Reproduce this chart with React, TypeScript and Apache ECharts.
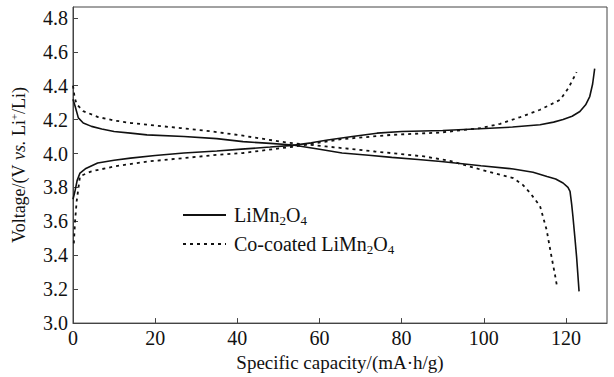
import React, { useEffect, useRef } from "react";
import * as echarts from "echarts";

// LiMn2O4 charge curve
const solidChargeX = [0, 0.5, 1.0, 1.7, 3, 6, 10, 14, 20, 27, 35, 41, 48, 53.5, 58, 62, 68, 74, 80, 90, 99, 107, 113.7, 117, 119.3, 121.5, 123.4, 124.8, 125.8, 126.5, 127];
const solidChargeY = [3.73, 3.78, 3.84, 3.885, 3.91, 3.944, 3.96, 3.973, 3.988, 4.003, 4.015, 4.026, 4.038, 4.048, 4.063, 4.08, 4.1, 4.12, 4.13, 4.136, 4.146, 4.156, 4.17, 4.185, 4.2, 4.22, 4.248, 4.287, 4.336, 4.41, 4.5];
// LiMn2O4 discharge curve
const solidDischargeX = [0, 0.5, 1.3, 2.5, 4.5, 7, 10, 14, 18, 27, 35, 41.4, 48, 53.5, 60, 65.5, 72, 77.6, 84, 89.6, 99.3, 107.2, 112, 115.4, 117.5, 119.3, 120.5, 121, 121.4, 121.7, 122.2, 122.6, 123.2];
const solidDischargeY = [4.32, 4.28, 4.21, 4.18, 4.16, 4.145, 4.13, 4.12, 4.11, 4.1, 4.088, 4.07, 4.06, 4.05, 4.025, 4.003, 3.99, 3.977, 3.965, 3.953, 3.928, 3.909, 3.89, 3.865, 3.85, 3.826, 3.8, 3.777, 3.7, 3.63, 3.5, 3.39, 3.187];
// Co-coated charge curve
const dashChargeX = [0.2, 0.5, 0.9, 1.7, 3, 4.5, 10.1, 18.1, 27, 34, 41.4, 53.5, 65.5, 77.6, 89.6, 99.3, 104, 108.9, 113.7, 118.6, 120.6, 122.6];
const dashChargeY = [3.47, 3.6, 3.72, 3.865, 3.88, 3.895, 3.924, 3.953, 3.973, 3.99, 4.003, 4.04, 4.085, 4.11, 4.124, 4.15, 4.175, 4.215, 4.258, 4.317, 4.386, 4.48];
// Co-coated discharge curve
const dashDischargeX = [0, 0.4, 0.9, 2.5, 6.1, 10, 14.1, 20, 26.2, 34, 41.4, 51.9, 61.5, 73.5, 85.5, 92, 99.3, 104, 107.2, 109.5, 111.3, 113.7, 115.3, 116.5, 117.3, 117.9];
const dashDischargeY = [4.4, 4.33, 4.29, 4.25, 4.215, 4.195, 4.18, 4.165, 4.15, 4.13, 4.105, 4.065, 4.042, 4.012, 3.983, 3.955, 3.905, 3.875, 3.855, 3.815, 3.767, 3.69, 3.55, 3.39, 3.29, 3.207];

const seriesNames = ["LiMn2O4", "Co-coated LiMn2O4"];
const xTicks = [0, 20, 40, 60, 80, 100, 120];
const yTicks = [3.0, 3.2, 3.4, 3.6, 3.8, 4.0, 4.2, 4.4, 4.6, 4.8];

const pair = (xs: number[], ys: number[]) => xs.map((x, i) => [x, ys[i]]);

const FONT = "'Liberation Serif', 'Times New Roman', serif";
const INK = "#111";
const AXIS = "#444";

export default function App() {
  const ref = useRef<HTMLDivElement>(null);
  useEffect(() => {
    if (!ref.current) return;
    const chart = echarts.init(ref.current, undefined, { renderer: "svg" });
    const solid = { type: "solid" as const, color: INK, width: 1.6 };
    const dashed = { type: [3, 4] as any, color: INK, width: 1.8 };
    chart.setOption({
      animation: false,
      backgroundColor: "#fff",
      grid: { left: 68, right: 7, top: 7, bottom: 53, show: true, borderColor: AXIS, borderWidth: 1 },
      legend: {
        data: seriesNames,
        orient: "vertical",
        left: 182,
        top: 205,
        padding: 0,
        itemWidth: 43,
        itemHeight: 14,
        itemGap: 7,
        itemStyle: { opacity: 0 },
        formatter: (n: string) =>
          n === seriesNames[0] ? "{a|LiMn}{s|2}{a|O}{s|4}" : "{a|Co-coated LiMn}{s|2}{a|O}{s|4}",
        textStyle: {
          padding: [0, 0, 0, 3],
          rich: {
            a: { fontFamily: FONT, fontSize: 20, color: INK, lineHeight: 24 },
            s: { fontFamily: FONT, fontSize: 13, color: INK, lineHeight: 12, verticalAlign: "bottom" },
          },
        },
      },
      xAxis: {
        type: "value",
        min: 0,
        max: 130,
        interval: 20,
        name: "Specific capacity/(mA·h/g)",
        nameLocation: "middle",
        nameGap: 27,
        nameTextStyle: { fontFamily: FONT, fontSize: 19, color: INK },
        axisLine: { show: true, onZero: false, lineStyle: { color: AXIS } },
        axisTick: { show: true, inside: true, length: 5, lineStyle: { color: AXIS } },
        axisLabel: {
          fontFamily: FONT,
          fontSize: 20,
          color: INK,
          margin: 5,
          showMaxLabel: false,
          formatter: (v: number) => (xTicks.includes(v) ? String(v) : ""),
        },
        splitLine: { show: false },
      },
      yAxis: {
        type: "value",
        min: 3.0,
        max: 4.864,
        interval: 0.2,
        name: "{a|Voltage/(V }{i|vs.}{a| Li}{p|+}{a|/Li)}",
        nameLocation: "middle",
        nameGap: 43,
        nameTextStyle: {
          rich: {
            a: { fontFamily: FONT, fontSize: 18, color: INK, lineHeight: 22 },
            i: { fontFamily: FONT, fontSize: 18, color: INK, fontStyle: "italic", lineHeight: 22 },
            p: { fontFamily: FONT, fontSize: 11, color: INK, lineHeight: 11, verticalAlign: "top" },
          },
        },
        axisLine: { show: true, onZero: false, lineStyle: { color: AXIS } },
        axisTick: { show: true, inside: true, length: 5, lineStyle: { color: AXIS } },
        axisLabel: {
          fontFamily: FONT,
          fontSize: 20,
          color: INK,
          margin: 5,
          showMaxLabel: false,
          formatter: (v: number) => {
            const hit = yTicks.find((t) => Math.abs(t - v) < 1e-6);
            return hit !== undefined ? hit.toFixed(1) : "";
          },
        },
        splitLine: { show: false },
      },
      series: [
        { name: seriesNames[0], type: "line", showSymbol: false, symbol: "none", data: pair(solidChargeX, solidChargeY), lineStyle: solid, itemStyle: { color: INK } },
        { name: seriesNames[0], type: "line", showSymbol: false, symbol: "none", data: pair(solidDischargeX, solidDischargeY), lineStyle: solid, itemStyle: { color: INK } },
        { name: seriesNames[1], type: "line", showSymbol: false, symbol: "none", data: pair(dashChargeX, dashChargeY), lineStyle: dashed, itemStyle: { color: INK } },
        { name: seriesNames[1], type: "line", showSymbol: false, symbol: "none", data: pair(dashDischargeX, dashDischargeY), lineStyle: dashed, itemStyle: { color: INK } },
      ],
    });
    return () => chart.dispose();
  }, []);
  return <div ref={ref} style={{ width: 614, height: 377, position: "fixed", left: 0, top: 0 }} />;
}
